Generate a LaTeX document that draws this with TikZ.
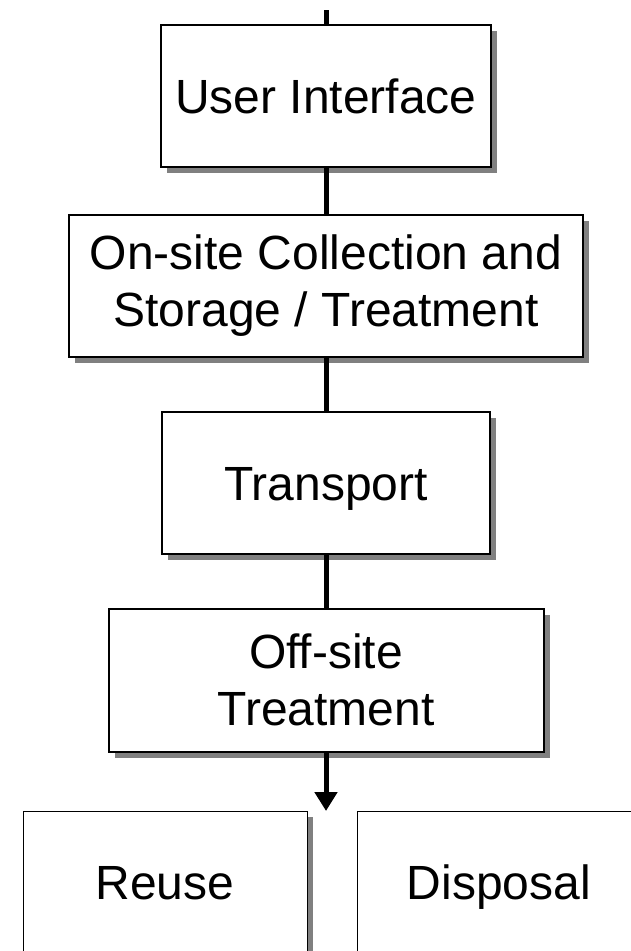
\documentclass[tikz,border=0pt]{standalone}
\usepackage{fontspec}
\setmainfont{Liberation Sans}
\usetikzlibrary{shadows,arrows.meta}
\definecolor{shadowgray}{RGB}{128,128,128}
\begin{document}
\begin{tikzpicture}[x=1pt,y={(0pt,-1pt)},
  stagebox/.style={draw, line width=2pt, fill=white, inner sep=0pt,
    align=center, minimum height=142pt,
    font=\fontsize{48}{57}\selectfont,
    drop shadow={shadow xshift=6pt, shadow yshift=-6pt, fill=shadowgray, opacity=1}},
  oneline/.style={text height=35pt, text depth=0pt},
  endbox/.style={stagebox, oneline, line width=1pt, minimum width=284pt},
  link/.style={line width=5pt},
  flowarrow/.style={link, -{Triangle[width=22pt 0 0, length=19pt 0 0]}}]
  \useasboundingbox (0,0) rectangle (631,951);
  \clip (0,0) rectangle (631,951);

  % process chain
  \node[stagebox, oneline, minimum width=330pt] (ui) at (326,96) {User Interface};
  \node[stagebox, minimum width=514pt] (onsite) at (326,286)
    {On-site Collection and\\Storage / Treatment};
  \node[stagebox, oneline, minimum width=328pt] (transport) at (326,483) {Transport};
  \node[stagebox, minimum width=435pt, minimum height=143pt] (offsite) at (326,680)
    {Off-site\\Treatment};

  % end uses
  \node[endbox] (reuse) at (165,882) {Reuse};
  \node[endbox] (disposal) at (499,882) {Disposal};

  % connectors
  \coordinate (feed) at (326,10);
  \coordinate (split) at (326,811);
  \draw[link] (feed) -- (ui.north);
  \draw[link] (ui.south) -- (onsite.north);
  \draw[link] (onsite.south) -- (transport.north);
  \draw[link] (transport.south) -- (offsite.north);
  \draw[flowarrow] (offsite.south) -- (split);
\end{tikzpicture}
\end{document}
